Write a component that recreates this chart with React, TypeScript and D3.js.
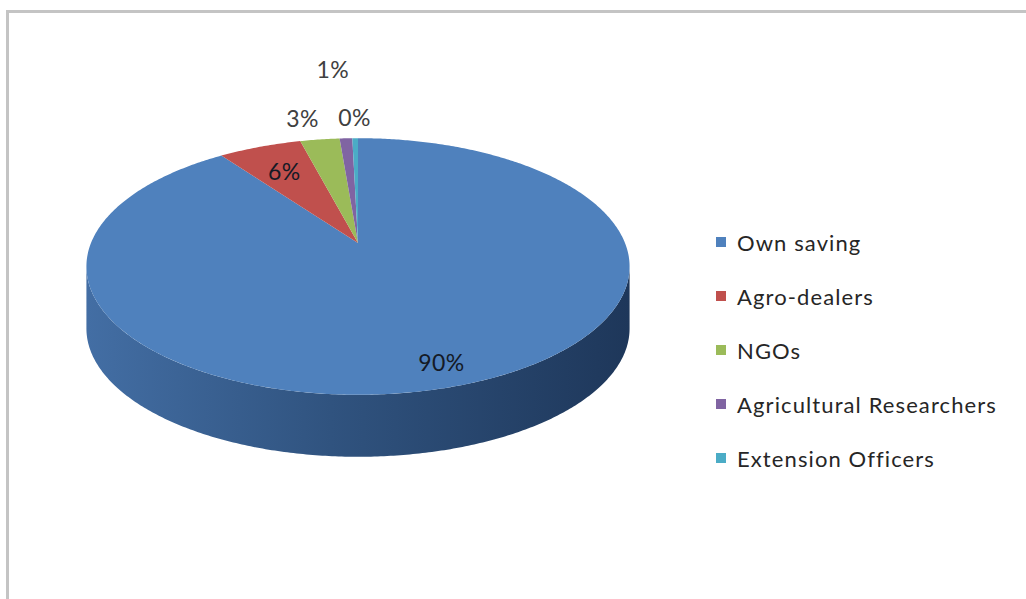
import React from "react";
import * as d3 from "d3";

// Sources of funding, share of respondents (%)
const categories = [
  "Own saving",
  "Agro-dealers",
  "NGOs",
  "Agricultural Researchers",
  "Extension Officers",
];
const shares = [90.0, 5.9, 2.8, 0.9, 0.4];
const colors = ["#4f81bd", "#c0504d", "#9bbb59", "#8064a2", "#4bacc6"];

const W = 1026;
const H = 599;

// Perspective view of the pie disc: centre, half-axes, perspective strength, thickness
const CX = 358;
const CY = 243;
const AX = 267;
const BY = 124;
const PERSP = 0.183;
const DEPTH = 62;

const FONT = "Lato, 'Open Sans', sans-serif";
const LABEL_SIZE = 23;
const LEGEND_SIZE = 22;

function project(theta: number, r: number, dy = 0): [number, number] {
  const u = r * Math.sin(theta);
  const v = -r * Math.cos(theta);
  const w = 1 - PERSP * v;
  return [CX + (AX * u) / w, CY + (BY * v) / w + dy];
}

function arcPoints(a0: number, a1: number, r: number, dy = 0): [number, number][] {
  const n = Math.max(2, Math.ceil(Math.abs(a1 - a0) / 0.01) + 1);
  return d3.range(n).map((i) => project(a0 + ((a1 - a0) * i) / (n - 1), r, dy));
}

const line = d3.line<[number, number]>();

export default function App() {
  const pie = d3.pie<number>().sort(null).value((d) => d);
  const arcs = pie(shares);
  const total = d3.sum(shares);
  const labels = shares.map((v) => `${Math.round((v / total) * 100)}%`);

  // silhouette tangent angles: front of the disc lies between these
  const thR = Math.acos(-PERSP);
  const thL = 2 * Math.PI - thR;
  const xLeft = project(thL, 1)[0];
  const xRight = project(thR, 1)[0];

  const sides = arcs
    .map((a, i) => {
      const s = Math.max(a.startAngle, thR);
      const e = Math.min(a.endAngle, thL);
      if (e <= s) return null;
      const top = arcPoints(s, e, 1);
      const bottom = arcPoints(e, s, 1, DEPTH);
      return { i, d: line([...top, ...bottom])! + "Z" };
    })
    .filter(Boolean) as { i: number; d: string }[];

  const tops = arcs.map((a, i) => {
    const pts = [project(0, 0), ...arcPoints(a.startAngle, a.endAngle, 1)];
    return { i, d: line(pts)! + "Z" };
  });

  // data labels: large slices inside, small ones outside with simple collision handling
  type Lab = { i: number; x: number; y: number; w: number; inside: boolean };
  const placed: Lab[] = [];
  const order = arcs.map((_, i) => i).sort((a, b) => b - a);
  const charW = 16;
  const rowStep = 48;
  const minGap = 20;
  order.forEach((i) => {
    const a = arcs[i];
    const mid = (a.startAngle + a.endAngle) / 2;
    const w = labels[i].length * charW;
    if (shares[i] / total >= 0.05) {
      const r = shares[i] / total > 0.5 ? 0.86 : 0.72;
      const [x, y] = project(mid, r);
      placed.push({ i, x, y, w, inside: true });
      return;
    }
    let [x, y] = project(mid, 1.25);
    const outs = () => placed.filter((p) => !p.inside && Math.abs(p.y - y) < LABEL_SIZE);
    if (outs().some((p) => Math.abs(p.x - x) < (p.w + w) / 2)) {
      // raise onto the next row, nudged away from the neighbour it collided with
      y -= rowStep;
      x -= w / 3;
    }
    outs().forEach((p) => {
      const need = (p.w + w) / 2 + minGap;
      if (Math.abs(p.x - x) < need) x = x < p.x ? p.x - need : p.x + need;
    });
    placed.push({ i, x, y, w, inside: false });
  });

  const legendX = 716;
  const legendY0 = 242;
  const legendStep = 54;

  return (
    <svg
      width={W}
      height={H}
      viewBox={`0 0 ${W} ${H}`}
      style={{ position: "fixed", left: 0, top: 0, background: "#fff" }}
      fontFamily={FONT}
    >
      <defs>
        {sides.map((s) => {
          const mix = d3.interpolateRgb(colors[s.i], "#0b1a33");
          return (
            <linearGradient
              key={s.i}
              id={`side-${s.i}`}
              gradientUnits="userSpaceOnUse"
              x1={xLeft}
              x2={xRight}
              y1={0}
              y2={0}
            >
              <stop offset="0" stopColor={mix(0.18)} />
              <stop offset="0.45" stopColor={mix(0.45)} />
              <stop offset="1" stopColor={mix(0.72)} />
            </linearGradient>
          );
        })}
      </defs>

      {/* chart area frame */}
      <path d={`M7.5,${H + 5}V11.5H${W + 5}`} fill="none" stroke="#c4c4c4" strokeWidth={3} />

      <g>
        {sides.map((s) => (
          <path key={`s${s.i}`} d={s.d} fill={`url(#side-${s.i})`} />
        ))}
        {tops.map((t) => (
          <path key={`t${t.i}`} d={t.d} fill={colors[t.i]} />
        ))}
      </g>

      <g fontSize={LABEL_SIZE} letterSpacing={0.5}>
        {placed.map((p) => (
          <text
            key={`l${p.i}`}
            x={p.x}
            y={p.y}
            textAnchor="middle"
            dominantBaseline="central"
            fill={p.inside ? "#141a26" : "#404040"}
          >
            {labels[p.i]}
          </text>
        ))}
      </g>

      <g fontSize={LEGEND_SIZE} fill="#262626" letterSpacing={1.1}>
        {categories.map((c, i) => (
          <g key={c} transform={`translate(${legendX},${legendY0 + i * legendStep})`}>
            <rect x={0} y={-5} width={10} height={10} fill={colors[i]} />
            <text x={21} y={0} dominantBaseline="central">
              {c}
            </text>
          </g>
        ))}
      </g>
    </svg>
  );
}
